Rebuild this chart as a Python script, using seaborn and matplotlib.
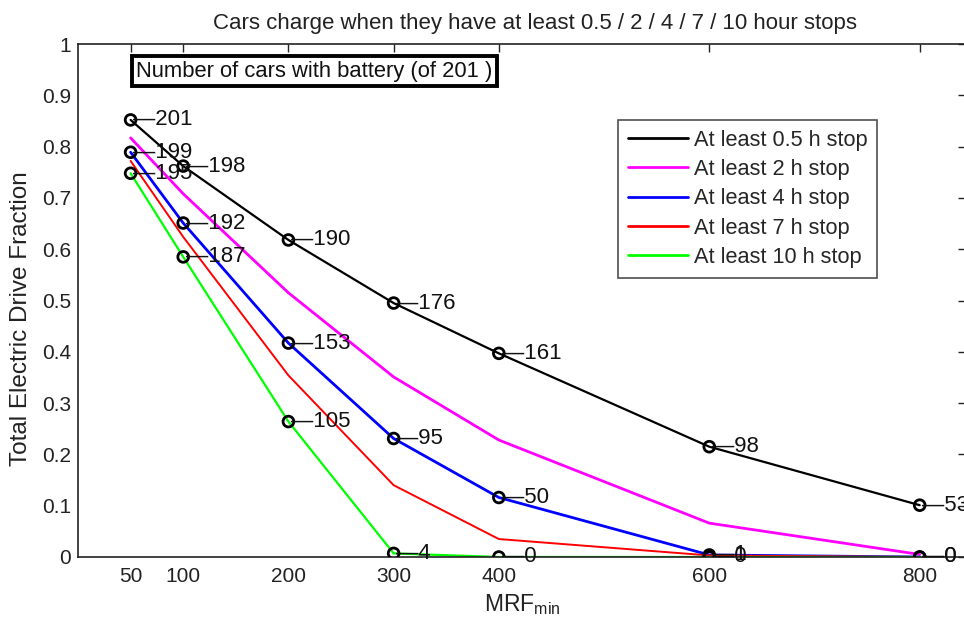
import matplotlib
matplotlib.use("Agg")
import matplotlib.pyplot as plt
import seaborn as sns
import pandas as pd

# ---- data ----
mrf = [50, 100, 200, 300, 400, 600, 800]
series_names = ["At least 0.5 h stop", "At least 2 h stop", "At least 4 h stop",
                "At least 7 h stop", "At least 10 h stop"]
frac_05 = [0.852, 0.762, 0.618, 0.495, 0.397, 0.215, 0.101]
frac_2 = [0.817, 0.708, 0.515, 0.351, 0.228, 0.066, 0.005]
frac_4 = [0.789, 0.651, 0.417, 0.231, 0.116, 0.004, 0.0]
frac_7 = [0.772, 0.624, 0.354, 0.140, 0.035, 0.003, 0.0]
frac_10 = [0.748, 0.585, 0.264, 0.007, 0.0, 0.0, 0.0]
cars_05 = [201, 198, 190, 176, 161, 98, 53]
cars_4 = [199, 192, 153, 95, 50, 1, 0]
cars_10 = [195, 187, 105, 4, 0, 0, 0]
x_ticks = [50, 100, 200, 300, 400, 600, 800]
y_ticks = [0, 0.1, 0.2, 0.3, 0.4, 0.5, 0.6, 0.7, 0.8, 0.9, 1]
y_tick_labels = ["0", "0.1", "0.2", "0.3", "0.4", "0.5", "0.6", "0.7", "0.8", "0.9", "1"]
colors = ["#000000", "#ff00ff", "#0000ff", "#ff0000", "#00ff00"]
all_fracs = [frac_05, frac_2, frac_4, frac_7, frac_10]

rows = []
for name, vals in zip(series_names, all_fracs):
    for x, v in zip(mrf, vals):
        rows.append({"MRF": x, "frac": v, "series": name})
df = pd.DataFrame(rows)

sns.set_style("white")
plt.rcParams["font.family"] = ["Liberation Sans", "DejaVu Sans"]

fig = plt.figure(figsize=(9.64, 6.28), dpi=100)
ax = fig.add_axes([78 / 964, 1 - 557 / 628, (966 - 78) / 964, (557 - 44) / 628])

widths = {"At least 0.5 h stop": 1.6, "At least 2 h stop": 2.0, "At least 4 h stop": 2.0,
          "At least 7 h stop": 1.4, "At least 10 h stop": 1.6}
sns.lineplot(data=df, x="MRF", y="frac", hue="series", hue_order=series_names,
             palette=colors, ax=ax, legend=True, linewidth=1.6, estimator=None, sort=False)
for line, name in zip(ax.get_lines(), series_names):
    line.set_linewidth(widths[name])

# labelled markers
for vals, cars in [(frac_05, cars_05), (frac_4, cars_4), (frac_10, cars_10)]:
    sns.scatterplot(x=mrf, y=vals, ax=ax, marker="o", s=60, facecolor="none",
                    edgecolor="black", linewidth=2.0, zorder=5, legend=False)
    for x, v, c in zip(mrf, vals, cars):
        ax.annotate("\u2014" + str(c), xy=(x, v), xytext=(2, 0), textcoords="offset points",
                    ha="left", va="center", fontsize=16, color="#111111", zorder=6)

ax.set_xlim(0, 844)
ax.set_ylim(0, 1)
ax.set_xticks(x_ticks)
ax.set_xticklabels([str(t) for t in x_ticks])
ax.set_yticks(y_ticks)
ax.set_yticklabels(y_tick_labels)
ax.tick_params(direction="in", length=5.5, width=1, top=True, right=True,
               labelsize=15, colors="#222222", labelcolor="#222222", pad=5)
ax.tick_params(axis="x", pad=7.5)
for sp in ax.spines.values():
    sp.set_color("#222222")
    sp.set_linewidth(1.2)

ax.set_xlabel(r"MRF$_{\mathregular{min}}$", fontsize=16.5, color="#222222")
ax.xaxis.set_label_coords(0.5, -0.068)
ax.set_ylabel("Total Electric Drive Fraction", fontsize=17.5, color="#222222")
ax.yaxis.set_label_coords(-0.052, 0.464)
ax.set_title("Cars charge when they have at least 0.5 / 2 / 4 / 7 / 10 hour stops",
             fontsize=16, color="#222222", pad=11, x=0.515)

ax.text(0.0653, 0.947, "Number of cars with battery (of 201 )", transform=ax.transAxes,
        fontsize=15.8, ha="left", va="center", color="#111111",
        bbox=dict(boxstyle="square,pad=0.2", facecolor="white", edgecolor="black", linewidth=2.8))

leg = ax.legend(loc="upper left", bbox_to_anchor=((618 - 78) / 888, 1 - (120 - 44) / 513),
                fontsize=15.7, frameon=True, fancybox=False, handlelength=2.75,
                handletextpad=0.28, labelspacing=0.38, borderpad=0.45, borderaxespad=0)
leg.get_frame().set_edgecolor("#222222")
leg.get_frame().set_linewidth(1.2)
for h in leg.get_lines():
    h.set_linewidth(2)

fig.savefig("out.png", dpi=100)
